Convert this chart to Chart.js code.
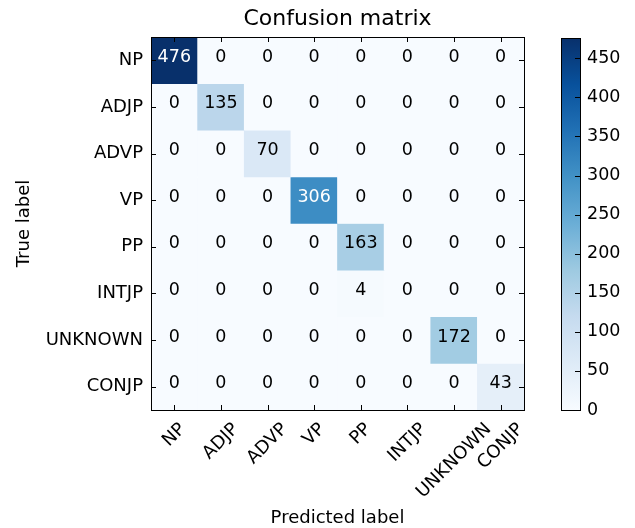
<!DOCTYPE html>
<html>
<head>
<meta charset="utf-8">
<title>Confusion matrix</title>
<script src="https://cdn.jsdelivr.net/npm/chart.js@4/dist/chart.umd.min.js"></script>
<style>
  body { margin: 0; background: #fff; }
  #wrap { position: relative; width: 635px; height: 528px; }
  #matrix { position: absolute; left: 0; top: 0; }
  #cbar { position: absolute; left: 540px; top: 0; }
</style>
</head>
<body>
<div id="wrap">
  <canvas id="matrix" width="635" height="528"></canvas>
  <canvas id="cbar" width="95" height="528"></canvas>
</div>
<script>
// labels (true = rows, predicted = columns)
const categories = ['NP', 'ADJP', 'ADVP', 'VP', 'PP', 'INTJP', 'UNKNOWN', 'CONJP'];

// counts, one row per true label
const rowNP      = [476, 0, 0, 0, 0, 0, 0, 0];
const rowADJP    = [0, 135, 0, 0, 0, 0, 0, 0];
const rowADVP    = [0, 0, 70, 0, 0, 0, 0, 0];
const rowVP      = [0, 0, 0, 306, 0, 0, 0, 0];
const rowPP      = [0, 0, 0, 0, 163, 0, 0, 0];
const rowINTJP   = [0, 0, 0, 0, 4, 0, 0, 0];
const rowUNKNOWN = [0, 0, 0, 0, 0, 0, 172, 0];
const rowCONJP   = [0, 0, 0, 0, 0, 0, 0, 43];
const counts = [rowNP, rowADJP, rowADVP, rowVP, rowPP, rowINTJP, rowUNKNOWN, rowCONJP];

const colorbarTicks = [0, 50, 100, 150, 200, 250, 300, 350, 400, 450];

const vmax = Math.max(...counts.flat());

Chart.defaults.font.family = "'DejaVu Sans', sans-serif";
Chart.defaults.color = '#000';

// matplotlib "Blues"
const bluesStops = ['#f7fbff', '#deebf7', '#c6dbef', '#9ecae1', '#6baed6', '#4292c6', '#2171b5', '#08519c', '#08306b'];

function hexToRgb(h) {
    return [parseInt(h.slice(1, 3), 16), parseInt(h.slice(3, 5), 16), parseInt(h.slice(5, 7), 16)];
}

function blues(t) {
    t = Math.min(1, Math.max(0, t));
    const pos = t * (bluesStops.length - 1);
    const i = Math.min(Math.floor(pos), bluesStops.length - 2);
    const f = pos - i;
    const a = hexToRgb(bluesStops[i]);
    const b = hexToRgb(bluesStops[i + 1]);
    const c = a.map((v, k) => Math.round(v + (b[k] - v) * f));
    return 'rgb(' + c.join(',') + ')';
}

// frame + inward ticks on all four sides, cell texts, rotated x labels
const matrixDecor = {
    id: 'matrixDecor',
    afterDatasetsDraw(chart) {
        const ctx = chart.ctx;
        const area = chart.chartArea;
        const xs = chart.scales.x;
        const ys = chart.scales.y;

        // cell values
        ctx.save();
        ctx.font = '17.5px "DejaVu Sans"';
        ctx.textAlign = 'center';
        ctx.textBaseline = 'middle';
        chart.data.datasets.forEach((ds, r) => {
            const meta = chart.getDatasetMeta(r);
            meta.data.forEach((el, c) => {
                const v = counts[r][c];
                const p = el.getCenterPoint();
                ctx.fillStyle = v > vmax / 2 ? '#fff' : '#000';
                ctx.fillText(String(v), p.x, p.y - 3);
            });
        });
        ctx.restore();

        // x tick labels, rotated 45deg, box centred under the tick (matplotlib style)
        ctx.save();
        ctx.font = '18px "DejaVu Sans"';
        ctx.fillStyle = '#000';
        ctx.textAlign = 'center';
        ctx.textBaseline = 'middle';
        const s = Math.SQRT1_2;
        xs.ticks.forEach((t, i) => {
            const label = categories[i];
            const w = ctx.measureText(label).width;
            const h = 21;
            const boxH = (w + h) * s;
            const cx = xs.getPixelForTick(i);
            const cy = area.bottom + 9 + boxH / 2;
            ctx.save();
            ctx.translate(cx, cy);
            ctx.rotate(-Math.PI / 4);
            ctx.fillText(label, 0, 0);
            ctx.restore();
        });
        ctx.restore();

        ctx.save();
        ctx.strokeStyle = '#000';
        ctx.lineWidth = 1;
        const tl = 5;
        ctx.beginPath();
        xs.ticks.forEach((t, i) => {
            const x = Math.round(xs.getPixelForTick(i)) + 0.5;
            ctx.moveTo(x, area.top); ctx.lineTo(x, area.top + tl);
            ctx.moveTo(x, area.bottom); ctx.lineTo(x, area.bottom - tl);
        });
        ys.ticks.forEach((t, i) => {
            const y = Math.round(ys.getPixelForTick(i)) + 0.5;
            ctx.moveTo(area.left, y); ctx.lineTo(area.left + tl, y);
            ctx.moveTo(area.right, y); ctx.lineTo(area.right - tl, y);
        });
        ctx.stroke();
        ctx.strokeRect(Math.round(area.left) + 0.5, Math.round(area.top) + 0.5,
            Math.round(area.right - area.left), Math.round(area.bottom - area.top));
        ctx.restore();
    }
};

new Chart(document.getElementById('matrix'), {
    type: 'bar',
    data: {
        labels: categories,
        datasets: counts.map((row, r) => ({
            label: categories[r],
            data: row.map(() => [r, r + 1]),
            backgroundColor: row.map(v => blues(v / vmax)),
            borderWidth: 0,
            grouped: false,
            barPercentage: 1,
            categoryPercentage: 1
        }))
    },
    options: {
        responsive: false,
        animation: false,
        layout: { padding: { top: 0, left: 0, right: 111, bottom: 0 } },
        plugins: {
            legend: { display: false },
            tooltip: { enabled: false },
            title: {
                display: true,
                text: 'Confusion matrix',
                fullSize: false,
                color: '#000',
                font: { size: 22, weight: 'normal' },
                padding: { top: 6, bottom: 4.6 }
            }
        },
        scales: {
            x: {
                type: 'category',
                grid: { display: false, drawTicks: false },
                border: { display: false },
                ticks: { display: false, autoSkip: false },
                title: {
                    display: true,
                    text: 'Predicted label',
                    color: '#000',
                    font: { size: 18 },
                    padding: { top: -1, bottom: -1 }
                },
                afterFit(scale) { scale.height = 118; }
            },
            y: {
                type: 'linear',
                min: 0,
                max: categories.length,
                reverse: true,
                grid: { display: false, drawTicks: false },
                border: { display: false },
                afterBuildTicks(scale) {
                    scale.ticks = categories.map((c, i) => ({ value: i + 0.5 }));
                },
                ticks: {
                    font: { size: 18 },
                    color: '#000',
                    padding: 8,
                    callback: (v) => categories[Math.floor(v)]
                },
                title: {
                    display: true,
                    text: 'True label',
                    color: '#000',
                    font: { size: 18 },
                    padding: { top: 14 }
                },
                afterFit(scale) { scale.width = 151; }
            }
        }
    },
    plugins: [matrixDecor]
});

// colour bar
const cbarDecor = {
    id: 'cbarDecor',
    afterDatasetsDraw(chart) {
        const ctx = chart.ctx;
        const area = chart.chartArea;
        const ys = chart.scales.y;
        ctx.save();
        ctx.strokeStyle = '#000';
        ctx.lineWidth = 1;
        ctx.beginPath();
        ys.ticks.forEach((t, i) => {
            const y = Math.round(ys.getPixelForTick(i)) + 0.5;
            ctx.moveTo(area.right, y); ctx.lineTo(area.right - 5, y);
        });
        ctx.stroke();
        ctx.strokeRect(Math.round(area.left) + 0.5, Math.round(area.top) + 0.5,
            Math.round(area.right - area.left), Math.round(area.bottom - area.top));
        ctx.restore();
    }
};

new Chart(document.getElementById('cbar'), {
    type: 'bar',
    data: {
        labels: [''],
        datasets: [{
            data: [[0, vmax]],
            borderWidth: 0,
            barPercentage: 1,
            categoryPercentage: 1,
            backgroundColor(context) {
                const { ctx, chartArea } = context.chart;
                if (!chartArea) return bluesStops[4];
                const g = ctx.createLinearGradient(0, chartArea.bottom, 0, chartArea.top);
                bluesStops.forEach((c, i) => g.addColorStop(i / (bluesStops.length - 1), c));
                return g;
            }
        }]
    },
    options: {
        responsive: false,
        animation: false,
        layout: { padding: { top: 38, left: 21, right: 0, bottom: 118 } },
        plugins: { legend: { display: false }, tooltip: { enabled: false } },
        scales: {
            x: { display: false },
            y: {
                position: 'right',
                min: 0,
                max: vmax,
                grid: { display: false, drawTicks: false },
                border: { display: false },
                afterBuildTicks(scale) {
                    scale.ticks = colorbarTicks.map(v => ({ value: v }));
                },
                ticks: { font: { size: 17.5 }, color: '#000', padding: 7 },
                afterFit(scale) { scale.width = 55; }
            }
        }
    },
    plugins: [cbarDecor]
});
</script>
</body>
</html>
